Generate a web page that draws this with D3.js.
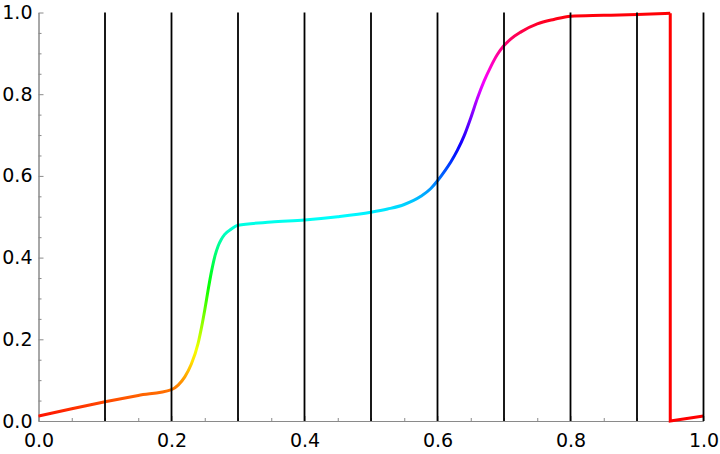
<!DOCTYPE html>
<html><head><meta charset="utf-8">
<script src="https://cdn.jsdelivr.net/npm/d3@7"></script>
<style>body{margin:0;background:#fff}svg{display:block}</style>
</head><body>
<script>
// ---- data ----
const curveX = [0, 0.05, 0.1, 0.15, 0.2, 0.21, 0.22, 0.23, 0.24, 0.245, 0.25, 0.255, 0.26, 0.265, 0.27, 0.275, 0.28, 0.29, 0.3, 0.35, 0.4, 0.45, 0.5, 0.525, 0.55, 0.575, 0.59, 0.6, 0.61, 0.62, 0.63, 0.64, 0.65, 0.66, 0.67, 0.68, 0.69, 0.7, 0.71, 0.725, 0.75, 0.775, 0.8, 0.85, 0.9, 0.95];
const curveY = [0.012, 0.03, 0.047, 0.0625, 0.077, 0.088, 0.108, 0.14, 0.19, 0.228, 0.272, 0.32, 0.365, 0.402, 0.428, 0.445, 0.457, 0.47, 0.479, 0.487, 0.492, 0.5, 0.511, 0.519, 0.53, 0.55, 0.569, 0.588, 0.61, 0.634, 0.663, 0.698, 0.742, 0.79, 0.832, 0.867, 0.897, 0.919, 0.935, 0.952, 0.972, 0.983, 0.991, 0.993, 0.995, 0.998];
const dropX = [0.95, 0.95, 1.0];
const dropY = [0.998, 0.0, 0.012];
const gridX = [0.1, 0.2, 0.3, 0.4, 0.5, 0.6, 0.7, 0.8, 0.9, 1.0];
const majorTicks = [0, 0.2, 0.4, 0.6, 0.8, 1.0];
const minorTicks = d3.range(0, 1.0001, 0.05).map(v => +v.toFixed(2)).filter(v => !majorTicks.includes(v));

const W = 720, H = 454;
const svg = d3.select("body").append("svg").attr("width", W).attr("height", H)
  .style("font-family", "'DejaVu Sans', sans-serif");

const x = d3.scaleLinear().domain([0, 1]).range([38.5, 703.5]);
const y = d3.scaleLinear().domain([0, 1]).range([421, 12.5]);

// hue gradient along y (Hue[y])
const defs = svg.append("defs");
const grad = defs.append("linearGradient").attr("id", "hue")
  .attr("gradientUnits", "userSpaceOnUse")
  .attr("x1", 0).attr("x2", 0).attr("y1", y(0)).attr("y2", y(1));
d3.range(0, 1.0001, 0.025).forEach(t => {
  grad.append("stop").attr("offset", t).attr("stop-color", d3.hsl(t * 360, 1, 0.5).toString());
});

// axes (ticks pointing inward)
const axisColor = "#8a8a8a";
const gx = svg.append("g").attr("transform", `translate(0,${y(0)})`)
  .call(d3.axisBottom(x).tickValues(majorTicks).tickFormat(d3.format(".1f"))
    .tickSizeInner(-5).tickSizeOuter(0).tickPadding(13));
const gxm = svg.append("g").attr("transform", `translate(0,${y(0)})`)
  .call(d3.axisBottom(x).tickValues(minorTicks).tickFormat("").tickSizeInner(-3).tickSizeOuter(0));
const gy = svg.append("g").attr("transform", `translate(${x(0)},0)`)
  .call(d3.axisLeft(y).tickValues(majorTicks).tickFormat(d3.format(".1f"))
    .tickSizeInner(-5).tickSizeOuter(0).tickPadding(6));
const gym = svg.append("g").attr("transform", `translate(${x(0)},0)`)
  .call(d3.axisLeft(y).tickValues(minorTicks).tickFormat("").tickSizeInner(-3).tickSizeOuter(0));
[gx, gxm, gy, gym].forEach(g => {
  g.select(".domain").attr("stroke", axisColor).attr("stroke-width", 1);
  g.selectAll(".tick line").attr("stroke", axisColor);
  g.selectAll(".tick text").attr("fill", "#000").style("font-size", "19px")
    .style("font-family", "'DejaVu Sans', sans-serif");
});

// curve
const pts = curveX.map((v, i) => [v, curveY[i]]);
const line = d3.line().x(d => x(d[0])).y(d => y(d[1])).curve(d3.curveMonotoneX);
svg.append("path").datum(pts).attr("d", line)
  .attr("fill", "none").attr("stroke", "url(#hue)").attr("stroke-width", 3);

const dpts = dropX.map((v, i) => [v, dropY[i]]);
svg.append("path").datum(dpts).attr("d", d3.line().x(d => x(d[0])).y(d => y(d[1])))
  .attr("fill", "none").attr("stroke", "#ff0000").attr("stroke-width", 3);

// vertical lines
svg.append("g").selectAll("line").data(gridX).join("line")
  .attr("x1", d => x(d)).attr("x2", d => x(d))
  .attr("y1", y(0)).attr("y2", y(1))
  .attr("stroke", "#000").attr("stroke-width", 1.8);
</script>
</body></html>
